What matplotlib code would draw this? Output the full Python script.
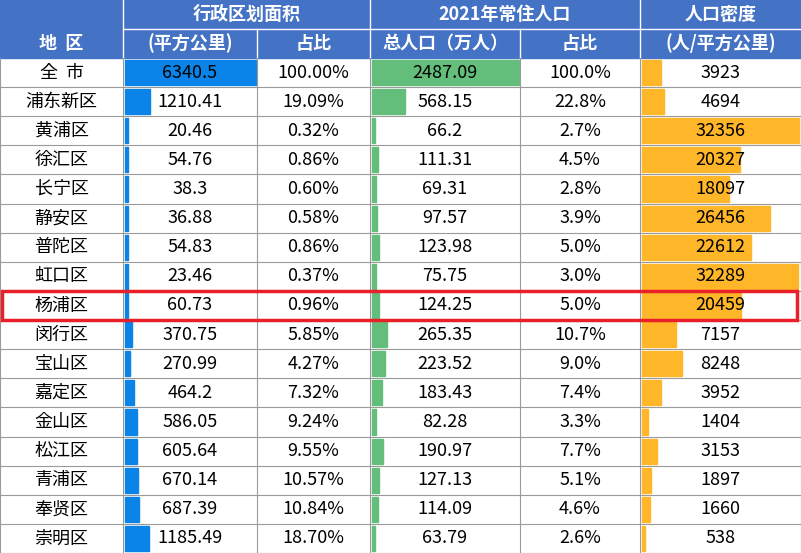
import matplotlib.pyplot as plt
from matplotlib import font_manager
from matplotlib.patches import Rectangle

cjk = [f.name for f in font_manager.fontManager.ttflist if 'CJK' in f.name]
cjk = sorted(set(cjk), key=lambda n: (' SC' not in n, n))
plt.rcParams['font.family'] = cjk[:1] + ['DejaVu Sans']

districts = ['全  市', '浦东新区', '黄浦区', '徐汇区', '长宁区', '静安区', '普陀区', '虹口区', '杨浦区',
             '闵行区', '宝山区', '嘉定区', '金山区', '松江区', '青浦区', '奉贤区', '崇明区']
area = ['6340.5', '1210.41', '20.46', '54.76', '38.3', '36.88', '54.83', '23.46', '60.73',
        '370.75', '270.99', '464.2', '586.05', '605.64', '670.14', '687.39', '1185.49']
area_pct = ['100.00%', '19.09%', '0.32%', '0.86%', '0.60%', '0.58%', '0.86%', '0.37%', '0.96%',
            '5.85%', '4.27%', '7.32%', '9.24%', '9.55%', '10.57%', '10.84%', '18.70%']
pop = ['2487.09', '568.15', '66.2', '111.31', '69.31', '97.57', '123.98', '75.75', '124.25',
       '265.35', '223.52', '183.43', '82.28', '190.97', '127.13', '114.09', '63.79']
pop_pct = ['100.0%', '22.8%', '2.7%', '4.5%', '2.8%', '3.9%', '5.0%', '3.0%', '5.0%',
           '10.7%', '9.0%', '7.4%', '3.3%', '7.7%', '5.1%', '4.6%', '2.6%']
density = [3923, 4694, 32356, 20327, 18097, 26456, 22612, 32289, 20459,
           7157, 8248, 3952, 1404, 3153, 1897, 1660, 538]

cols = [0, 123, 257, 370, 520, 640, 801]
hdr_h = 29
top = 58
row_h = (553 - top) / len(districts)
header_bg = '#4472C4'
grid = '#9A9A9A'

fig = plt.figure(figsize=(8.01, 5.53), dpi=100)
ax = fig.add_axes([0, 0, 1, 1])
ax.set_xlim(0, 801)
ax.set_ylim(553, 0)
ax.axis('off')

# header
ax.add_patch(Rectangle((0, 0), 801, top, color=header_bg, zorder=0))
hk = dict(color='white', fontsize=13, fontweight='bold', ha='center', va='center')
ax.text((cols[1] + cols[3]) / 2, hdr_h / 2, '行政区划面积', **hk)
ax.text((cols[3] + cols[5]) / 2, hdr_h / 2, '2021年常住人口', **hk)
ax.text((cols[5] + cols[6]) / 2, hdr_h / 2, '人口密度', **hk)
ax.text((cols[0] + cols[1]) / 2, hdr_h * 1.5, '地  区', **hk)
ax.text((cols[1] + cols[2]) / 2, hdr_h * 1.5, '(平方公里)', **hk)
ax.text((cols[2] + cols[3]) / 2, hdr_h * 1.5, '占比', **hk)
ax.text((cols[3] + cols[4]) / 2, hdr_h * 1.5, '总人口（万人）', **hk)
ax.text((cols[4] + cols[5]) / 2, hdr_h * 1.5, '占比', **hk)
ax.text((cols[5] + cols[6]) / 2, hdr_h * 1.5, '(人/平方公里)', **hk)
for x in cols[1:-1]:
    y0 = hdr_h if x in (cols[2], cols[4]) else 0
    ax.plot([x, x], [y0, top], color='white', lw=1)
ax.plot([cols[1], 801], [hdr_h, hdr_h], color='white', lw=1)

area_max = max(float(v) for v in area)
pop_max = max(float(v) for v in pop)
dens_max = max(density)

for i, name in enumerate(districts):
    y = top + i * row_h
    cy = y + row_h / 2
    pad = 2
    # data bars (Excel-style, with a small minimum length)
    w = max(3, (cols[2] - cols[1] - 3) * float(area[i]) / area_max)
    ax.add_patch(Rectangle((cols[1] + 1.5, y + pad), w, row_h - 2 * pad, color='#0A84E8', zorder=1))
    w = max(3, (cols[4] - cols[3] - 3) * float(pop[i]) / pop_max)
    ax.add_patch(Rectangle((cols[3] + 1.5, y + pad), w, row_h - 2 * pad, color='#63BE7B', zorder=1))
    w = max(3, (cols[6] - cols[5] - 4) * density[i] / dens_max)
    ax.add_patch(Rectangle((cols[5] + 1.5, y + pad), w, row_h - 2 * pad, color='#FFB628', zorder=1))
    vals = [name, area[i], area_pct[i], pop[i], pop_pct[i], str(density[i])]
    for j, v in enumerate(vals):
        ax.text((cols[j] + cols[j + 1]) / 2, cy, v, fontsize=13, ha='center', va='center',
                color='black', zorder=3)
    ax.plot([0, 801], [y + row_h, y + row_h], color=grid, lw=0.8, zorder=2)

for x in cols:
    ax.plot([x, x], [top, 553], color=grid, lw=0.8, zorder=2)

# highlight 杨浦区
hi = districts.index('杨浦区')
ax.add_patch(Rectangle((2, top + hi * row_h), 795, row_h, fill=False, edgecolor='#E8202A',
                       lw=2.5, zorder=4))

fig.savefig('out.png', dpi=100)
